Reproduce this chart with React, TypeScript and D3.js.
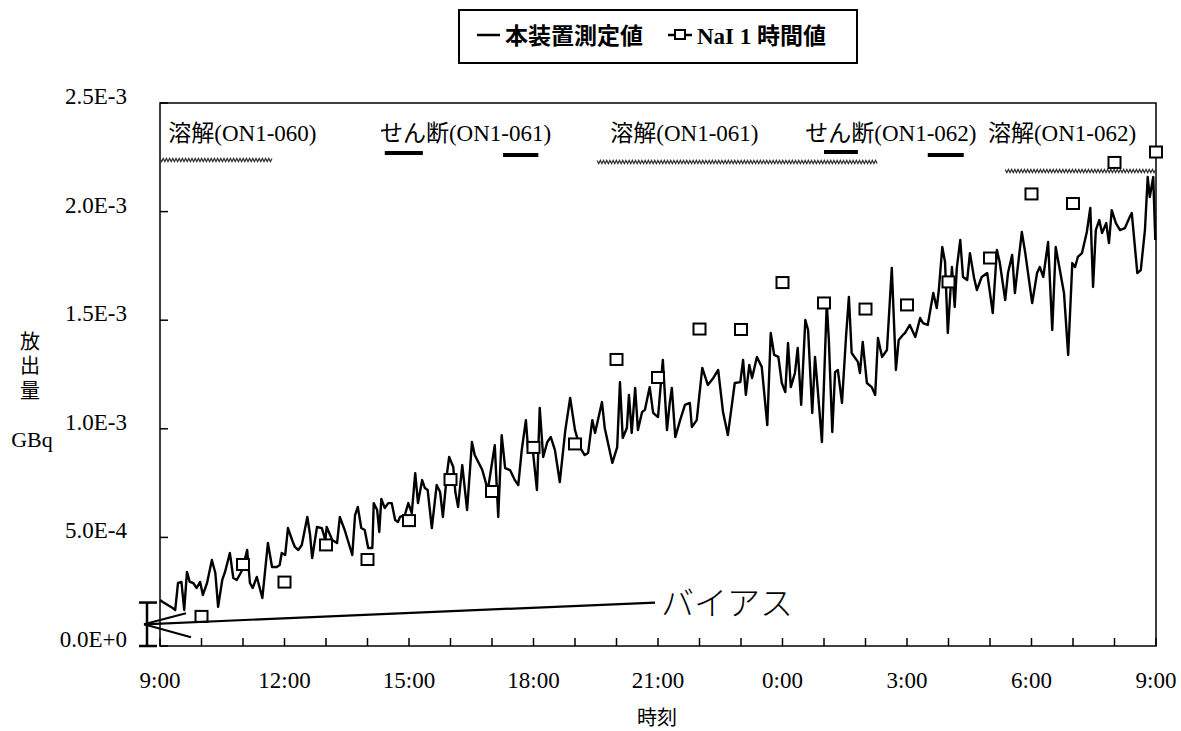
import { useEffect, useRef } from 'react';
import * as d3 from 'd3';

const W = 1181;
const H = 731;
const PLOT = { left: 160, right: 1156, top: 103, bottom: 646 };

// 本装置測定値: [minutes after 9:00, value in units of 1E-4 GBq]
const measured: [number, number][] = [
  [0, 2.12], [4, 2.03], [16, 1.8], [22, 1.66], [26, 2.9], [31, 2.95], [35, 1.66], [39, 3.41], [43, 2.95], [48, 2.9],
  [53, 2.67], [58, 2.95], [62, 2.35], [68, 2.9], [75, 3.96], [80, 3.36], [84, 1.8], [90, 3.04], [94, 3.41], [101, 4.28],
  [106, 3.13], [111, 3.04], [119, 3.5], [126, 4.42], [130, 2.9], [134, 2.67], [140, 3.18], [148, 2.21], [156, 4.74], [162, 3.64],
  [169, 3.64], [173, 3.73], [176, 4.28], [181, 4.19], [185, 5.43], [191, 4.88], [195, 4.56], [200, 4.42], [205, 4.65], [213, 5.94],
  [217, 5.11], [220, 4.05], [227, 5.48], [234, 5.43], [239, 4.88], [241, 5.48], [249, 4.88], [256, 4.74], [260, 5.94], [267, 5.34],
  [278, 4.19], [282, 6.03], [286, 6.4], [291, 5.43], [296, 5.34], [301, 4.51], [307, 4.51], [309, 6.58], [314, 6.26], [317, 5.25],
  [320, 6.77], [325, 6.35], [330, 6.58], [335, 6.58], [340, 5.8], [344, 5.71], [347, 5.94], [354, 6.03], [359, 6.58], [364, 6.12],
  [369, 7.96], [373, 6.58], [379, 7.64], [383, 7.27], [387, 7.18], [393, 5.43], [400, 7.41], [405, 7.09], [409, 5.94], [415, 7.96],
  [418, 8.7], [424, 8.24], [427, 7.09], [431, 6.4], [437, 8.33], [444, 6.26], [451, 9.39], [455, 8.79], [466, 8.1], [474, 7.18],
  [484, 9.25], [489, 5.94], [494, 9.71], [499, 8.19], [506, 8.1], [513, 7.64], [518, 7.41], [523, 9.02], [529, 10.4], [532, 9.12],
  [539, 9.02], [545, 7.18], [549, 10.96], [554, 8.7], [560, 9.39], [565, 9.62], [571, 9.02], [578, 7.55], [586, 9.94], [593, 11.42],
  [600, 9.94], [607, 9.16], [614, 8.79], [619, 8.89], [625, 10.4], [629, 9.81], [639, 11.23], [643, 10.04], [654, 8.43], [661, 9.16],
  [665, 12.15], [669, 9.58], [675, 10.04], [678, 11.56], [682, 9.81], [687, 11.88], [691, 9.94], [697, 10.77], [701, 10.87], [708, 11.92],
  [713, 10.73], [720, 10.54], [727, 13.17], [733, 9.94], [737, 11.19], [740, 11.88], [745, 9.62], [752, 10.4], [759, 11.1], [766, 11.19],
  [769, 10.08], [776, 10.4], [784, 12.8], [792, 12.02], [800, 12.34], [807, 12.71], [814, 10.77], [821, 9.71], [831, 12.11], [839, 12.15],
  [843, 13.17], [847, 11.56], [852, 12.94], [856, 12.34], [863, 13.31], [870, 12.85], [878, 10.17], [883, 14.41], [888, 13.4], [894, 13.31],
  [899, 12.11], [904, 11.69], [908, 13.95], [912, 11.92], [918, 12.57], [922, 13.72], [927, 11.1], [933, 15.01], [937, 14.55], [943, 10.73],
  [947, 13.31], [951, 11.79], [957, 9.39], [964, 15.79], [967, 14.09], [972, 9.85], [976, 12.61], [980, 12.71], [986, 11.19], [992, 14.32],
  [996, 16.07], [1000, 13.49], [1009, 13.08], [1012, 12.57], [1016, 14.0], [1022, 12.11], [1029, 11.92], [1034, 11.56], [1038, 14.18], [1044, 13.31],
  [1051, 13.63], [1058, 17.4], [1064, 12.71], [1068, 14.09], [1074, 14.32], [1077, 14.41], [1084, 14.78], [1092, 14.23], [1099, 15.1], [1103, 14.87],
  [1110, 14.78], [1118, 16.25], [1123, 15.56], [1126, 16.39], [1131, 18.37], [1135, 17.68], [1139, 14.41], [1145, 17.45], [1149, 15.61], [1152, 17.4],
  [1157, 18.69], [1161, 16.99], [1167, 16.85], [1171, 18.09], [1177, 16.94], [1181, 16.39], [1188, 16.99], [1196, 17.17], [1204, 15.33], [1210, 18.23],
  [1214, 17.68], [1222, 15.93], [1226, 17.17], [1232, 18.0], [1236, 16.25], [1240, 17.4], [1246, 19.06], [1251, 18.09], [1261, 15.79], [1268, 17.17],
  [1272, 17.45], [1277, 16.99], [1284, 18.6], [1290, 14.55], [1295, 18.37], [1301, 17.31], [1307, 16.25], [1313, 13.4], [1319, 17.63], [1323, 17.45],
  [1327, 17.91], [1333, 18.09], [1340, 19.06], [1345, 20.17], [1349, 16.53], [1353, 19.15], [1358, 19.61], [1362, 19.01], [1368, 19.47], [1372, 18.55],
  [1376, 20.07], [1382, 19.47], [1388, 19.15], [1395, 19.24], [1402, 19.75], [1405, 19.93], [1413, 17.17], [1418, 17.31], [1424, 19.15], [1428, 21.59],
  [1431, 20.67], [1436, 21.59], [1439, 18.69],
];

// NaI 1時間値: hours after 9:00, values in 1E-4 GBq
const naiHours = [1, 2, 3, 4, 5, 6, 7, 8, 9, 10, 11, 12, 13, 14, 15, 16, 17, 18, 19, 20, 21, 22, 23, 24];
const naiValues = [1.34, 3.73, 2.92, 4.63, 3.96, 5.75, 7.64, 7.09, 9.12, 9.28, 13.17, 12.34, 14.57, 14.55, 16.71, 15.77, 15.49, 15.68, 16.74, 17.84, 20.79, 20.35, 22.24, 22.72];

const yTicks = [0, 5e-4, 1e-3, 1.5e-3, 2e-3, 2.5e-3];
const yTickLabels = ['0.0E+0', '5.0E-4', '1.0E-3', '1.5E-3', '2.0E-3', '2.5E-3'];
const xTickMinutes = [0, 180, 360, 540, 720, 900, 1080, 1260, 1440];
const xTickLabels = ['9:00', '12:00', '15:00', '18:00', '21:00', '0:00', '3:00', '6:00', '9:00'];

// process annotations (minutes after 9:00)
const processLabels = ['溶解(ON1-060)', 'せん断(ON1-061)', '溶解(ON1-061)', 'せん断(ON1-062)', '溶解(ON1-062)'];
const processLabelStart = [12, 318, 651, 933, 1197];
const dissolvePeriods: [number, number][] = [[0, 163], [632, 1038], [1222, 1440]];
const shearPeriods: [number, number][] = [[325, 380], [496, 547], [960, 1009], [1110, 1162]];

const biasRange = [0, 2e-4];
const biasLabel = 'バイアス';

const SERIF = "'Liberation Serif', 'Noto Sans CJK JP', serif";
const CJK = "'Noto Sans CJK JP', sans-serif";

const App = () => {
  const ref = useRef<SVGSVGElement>(null);

  useEffect(() => {
    const svg = d3.select(ref.current);
    svg.selectAll('*').remove();

    const x = d3.scaleLinear().domain([0, 1440]).range([PLOT.left, PLOT.right]);
    const y = d3.scaleLinear().domain([0, 2.5e-3]).range([PLOT.bottom, PLOT.top]);

    svg.append('rect').attr('width', W).attr('height', H).attr('fill', '#fff');

    // plot frame
    svg.append('rect')
      .attr('x', PLOT.left).attr('y', PLOT.top)
      .attr('width', PLOT.right - PLOT.left).attr('height', PLOT.bottom - PLOT.top)
      .attr('fill', 'none').attr('stroke', '#000').attr('stroke-width', 1.5);

    // x ticks every hour, pointing inward
    d3.range(0, 1441, 60).forEach((m) => {
      svg.append('line')
        .attr('x1', x(m)).attr('x2', x(m))
        .attr('y1', PLOT.bottom).attr('y2', PLOT.bottom - 8)
        .attr('stroke', '#000').attr('stroke-width', 1.5);
    });
    xTickMinutes.forEach((m, i) => {
      svg.append('text')
        .attr('x', x(m)).attr('y', PLOT.bottom + 42)
        .attr('text-anchor', 'middle')
        .attr('font-family', SERIF).attr('font-size', 23)
        .text(xTickLabels[i]);
    });

    // y ticks
    yTicks.forEach((v, i) => {
      svg.append('line')
        .attr('x1', PLOT.left).attr('x2', PLOT.left + 8)
        .attr('y1', y(v)).attr('y2', y(v))
        .attr('stroke', '#000').attr('stroke-width', 1.5);
      svg.append('text')
        .attr('x', 127).attr('y', y(v) + 1)
        .attr('text-anchor', 'end')
        .attr('font-family', SERIF).attr('font-size', 23)
        .text(yTickLabels[i]);
    });

    // axis titles
    svg.append('text')
      .attr('x', 30).attr('y', 331)
      .attr('font-family', CJK).attr('font-size', 20)
      .style('writing-mode', 'vertical-rl')
      .style('text-orientation', 'upright')
      .style('letter-spacing', '4.5px')
      .text('放出量');
    svg.append('text')
      .attr('x', 32).attr('y', 447)
      .attr('text-anchor', 'middle')
      .attr('font-family', SERIF).attr('font-size', 22)
      .text('GBq');
    svg.append('text')
      .attr('x', 657).attr('y', 725)
      .attr('text-anchor', 'middle')
      .attr('font-family', CJK).attr('font-size', 20)
      .text('時刻');

    // process annotations
    processLabels.forEach((t, i) => {
      svg.append('text')
        .attr('x', x(processLabelStart[i])).attr('y', 141)
        .attr('font-family', SERIF).attr('font-size', 23)
        .text(t);
    });
    const zig = (x0: number, x1: number, yc: number) => {
      const pts: [number, number][] = [];
      let k = 0;
      for (let px = x0; px <= x1; px += 1.6) {
        pts.push([px, yc + (k % 2 === 0 ? -1.6 : 1.6)]);
        k++;
      }
      return d3.line()(pts);
    };
    const dissolveRowY = [160, 162, 171];
    dissolvePeriods.forEach(([a, b], i) => {
      svg.append('path')
        .attr('d', zig(x(a), x(b), dissolveRowY[i]))
        .attr('fill', 'none').attr('stroke', '#333').attr('stroke-width', 1.2);
    });
    const shearRowY = [153, 155, 152, 155];
    shearPeriods.forEach(([a, b], i) => {
      svg.append('line')
        .attr('x1', x(a)).attr('x2', x(b))
        .attr('y1', shearRowY[i]).attr('y2', shearRowY[i])
        .attr('stroke', '#000').attr('stroke-width', 4);
    });

    // measured line
    const line = d3.line<[number, number]>()
      .x((d) => x(d[0]))
      .y((d) => y(d[1] * 1e-4));
    svg.append('path')
      .datum(measured)
      .attr('d', line)
      .attr('fill', 'none').attr('stroke', '#000')
      .attr('stroke-width', 2.4).attr('stroke-linejoin', 'round');

    // NaI hourly squares
    naiHours.forEach((h, i) => {
      svg.append('rect')
        .attr('x', x(h * 60) - 6).attr('y', y(naiValues[i] * 1e-4) - 6)
        .attr('width', 12).attr('height', 11)
        .attr('fill', '#fff').attr('stroke', '#000').attr('stroke-width', 2);
    });

    // bias bracket and pointer
    const bx = PLOT.left - 13;
    svg.append('line')
      .attr('x1', bx).attr('x2', bx)
      .attr('y1', y(biasRange[0])).attr('y2', y(biasRange[1]))
      .attr('stroke', '#000').attr('stroke-width', 2.5);
    biasRange.forEach((v) => {
      svg.append('line')
        .attr('x1', bx - 8).attr('x2', bx + 10)
        .attr('y1', y(v)).attr('y2', y(v))
        .attr('stroke', '#000').attr('stroke-width', 2.5);
    });
    const ax = bx - 3;
    const ay = y((biasRange[0] + biasRange[1]) / 2);
    const pointer = [
      [ax + 42, ay - 11],
      [ax + 47, ay + 13],
      [655, y(biasRange[1])],
    ];
    pointer.forEach(([px, py]) => {
      svg.append('line')
        .attr('x1', ax).attr('y1', ay).attr('x2', px).attr('y2', py)
        .attr('stroke', '#000').attr('stroke-width', 2.2);
    });
    svg.append('text')
      .attr('x', 661).attr('y', y(biasRange[1]) + 12)
      .attr('font-family', CJK).attr('font-size', 33)
      .attr('font-weight', 300)
      .text(biasLabel);

    // legend
    const lg = svg.append('g');
    lg.append('rect')
      .attr('x', 459).attr('y', 10).attr('width', 398).attr('height', 53)
      .attr('fill', '#fff').attr('stroke', '#000').attr('stroke-width', 2);
    lg.append('line')
      .attr('x1', 477).attr('x2', 500).attr('y1', 35).attr('y2', 35)
      .attr('stroke', '#000').attr('stroke-width', 2.5);
    lg.append('text')
      .attr('x', 505).attr('y', 44)
      .attr('font-family', CJK).attr('font-size', 23).attr('font-weight', 'bold')
      .text('本装置測定値');
    lg.append('line')
      .attr('x1', 668).attr('x2', 692).attr('y1', 35).attr('y2', 35)
      .attr('stroke', '#000').attr('stroke-width', 2.5);
    lg.append('rect')
      .attr('x', 675).attr('y', 30).attr('width', 10).attr('height', 9)
      .attr('fill', '#fff').attr('stroke', '#000').attr('stroke-width', 2);
    lg.append('text')
      .attr('x', 697).attr('y', 44)
      .attr('font-family', SERIF).attr('font-size', 23).attr('font-weight', 'bold')
      .text('NaI 1 時間値');
  }, []);

  return (
    <svg
      ref={ref}
      width={W}
      height={H}
      style={{ position: 'absolute', left: 0, top: 0, display: 'block' }}
    />
  );
};

export default App;
